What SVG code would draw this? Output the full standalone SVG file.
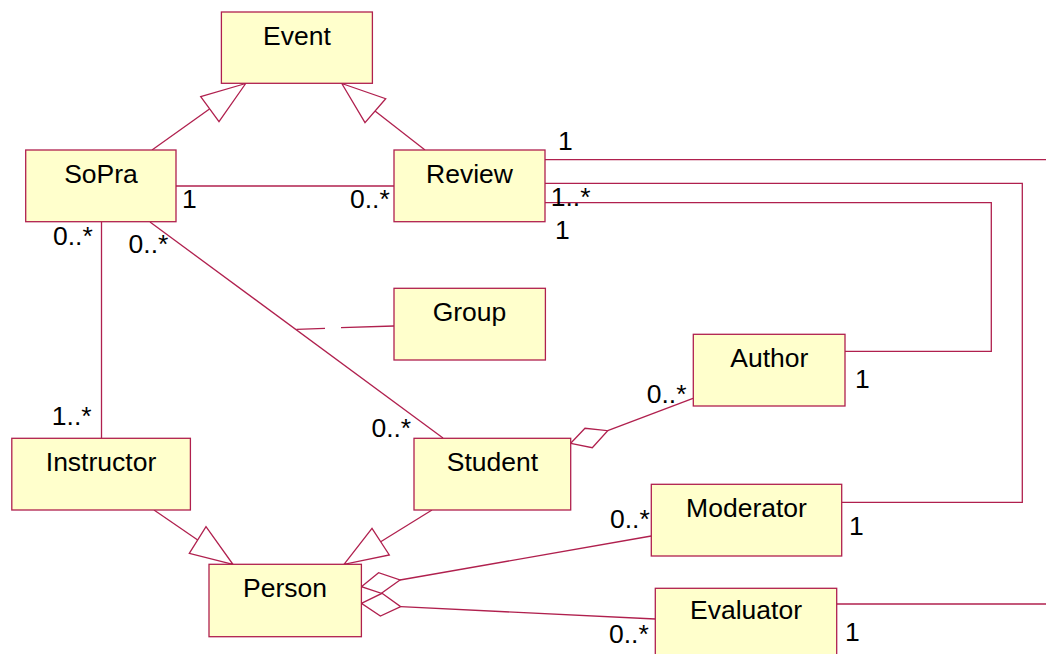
<svg xmlns="http://www.w3.org/2000/svg" width="1046" height="654" viewBox="0 0 1046 654">
<style>
.box{fill:#FFFFCC;stroke:#B0204E;stroke-width:1.3}
.ln{fill:none;stroke:#B0204E;stroke-width:1.3}
.hd{fill:#FFFFFF;stroke:#B0204E;stroke-width:1.3}
text{font-family:"Liberation Sans",Arial,sans-serif;font-size:26.5px;fill:#000}
.c{text-anchor:middle}
</style>
<rect width="1046" height="654" fill="#FFFFFF"/>
<g id="connectors">
  <!-- generalizations to Event -->
  <line class="ln" x1="152" y1="150" x2="209.5" y2="109"/>
  <polygon class="hd" points="245.7,83.5 200.7,96.7 219,121.7"/>
  <line class="ln" x1="425" y1="150" x2="375" y2="111"/>
  <polygon class="hd" points="341.8,83.5 385.7,98.7 365,122.7"/>
  <!-- SoPra - Review -->
  <line class="ln" x1="176" y1="186" x2="394" y2="186"/>
  <!-- SoPra - Instructor -->
  <line class="ln" x1="101.5" y1="222" x2="101.5" y2="438"/>
  <!-- SoPra - Student -->
  <line class="ln" x1="150" y1="222" x2="443" y2="438"/>
  <!-- Group association class link -->
  <line class="ln" x1="296.5" y1="329.3" x2="325" y2="328.4"/>
  <line class="ln" x1="341" y1="327.7" x2="394" y2="326"/>
  <!-- Review right side lines -->
  <polyline class="ln" points="545,159.7 1046,159.7"/>
  <polyline class="ln" points="545,183.3 1022.3,183.3 1022.3,502.3 841.7,502.3"/>
  <polyline class="ln" points="545,202.7 991.3,202.7 991.3,351.3 845,351.3"/>
  <!-- Student - Author aggregation -->
  <polygon class="hd" points="570.7,443.3 585,428.3 607.7,430.7 592.3,447.7"/>
  <line class="ln" x1="607.7" y1="430.7" x2="693" y2="398.3"/>
  <!-- generalizations to Person -->
  <line class="ln" x1="154" y1="510" x2="197.7" y2="540"/>
  <polygon class="hd" points="232.9,564.3 189.3,553.3 206,526.7"/>
  <line class="ln" x1="432" y1="510" x2="380.7" y2="541.7"/>
  <polygon class="hd" points="344,564.3 372,528.3 389.3,555"/>
  <!-- Person - Moderator / Evaluator aggregations -->
  <polygon class="hd" points="361.4,586.7 378.6,572.7 400,580 381.4,593.3"/>
  <line class="ln" x1="400" y1="580" x2="651.3" y2="536"/>
  <polygon class="hd" points="361.4,603.3 382,593.3 400.7,606.7 380.4,616"/>
  <line class="ln" x1="400.7" y1="606.7" x2="655.3" y2="619"/>
  <!-- Evaluator right -->
  <line class="ln" x1="836.7" y1="604" x2="1046" y2="604"/>
</g>
<g id="labels">
  <text x="558" y="150">1</text>
  <text x="182" y="208">1</text>
  <text x="350" y="208">0..*</text>
  <text x="550.7" y="206">1..*</text>
  <text x="555" y="239">1</text>
  <text x="53" y="245">0..*</text>
  <text x="128.6" y="253">0..*</text>
  <text x="51.8" y="425">1..*</text>
  <text x="371.4" y="437">0..*</text>
  <text x="855" y="388">1</text>
  <text x="646.7" y="402.7">0..*</text>
  <text x="610" y="528">0..*</text>
  <text x="849" y="535">1</text>
  <text x="609" y="642.7">0..*</text>
  <text x="845" y="640.7">1</text>
</g>
<g id="Event"><rect class="box" x="221.4" y="12" width="151" height="71.3"/><text class="c" x="297" y="45">Event</text></g>
<g id="SoPra"><rect class="box" x="25.7" y="150" width="150.3" height="71.7"/><text class="c" x="101" y="183">SoPra</text></g>
<g id="Review"><rect class="box" x="394" y="150" width="151" height="71.7"/><text class="c" x="469.5" y="183">Review</text></g>
<g id="Group"><rect class="box" x="394" y="288.3" width="151.4" height="71.7"/><text class="c" x="469.5" y="320.7">Group</text></g>
<g id="Author"><rect class="box" x="693.3" y="334.3" width="151.7" height="71.7"/><text class="c" x="769.3" y="366.7">Author</text></g>
<g id="Instructor"><rect class="box" x="11.8" y="438.3" width="178.6" height="71.7"/><text class="c" x="101" y="470.7">Instructor</text></g>
<g id="Student"><rect class="box" x="414" y="438.3" width="156.7" height="71.7"/><text class="c" x="492.5" y="470.7">Student</text></g>
<g id="Moderator"><rect class="box" x="651.3" y="484.3" width="190.4" height="71.7"/><text class="c" x="746.5" y="516.7">Moderator</text></g>
<g id="Person"><rect class="box" x="209" y="564.3" width="152.4" height="72.4"/><text class="c" x="285" y="596.7">Person</text></g>
<g id="Evaluator"><rect class="box" x="655.3" y="588.3" width="181.4" height="72"/><text class="c" x="746" y="619">Evaluator</text></g>
</svg>
